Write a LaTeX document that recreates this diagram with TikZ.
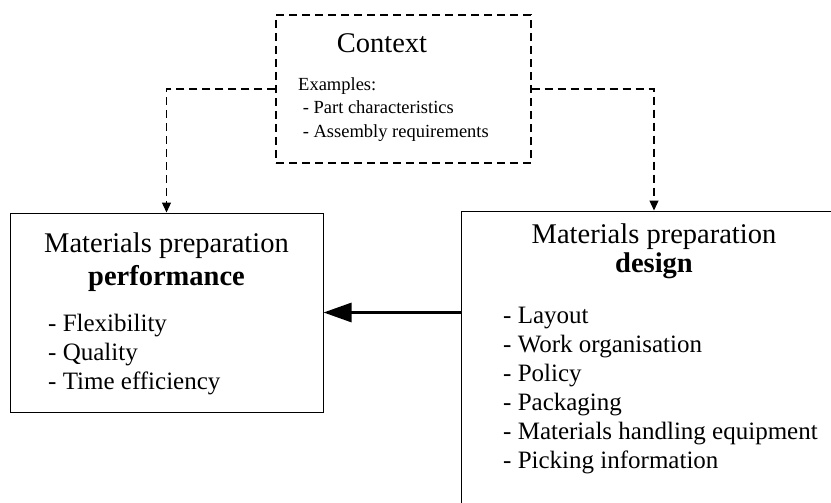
\documentclass[tikz,border=0pt]{standalone}
\usepackage{fontspec}
\setmainfont{Liberation Serif}
\usetikzlibrary{arrows.meta,positioning}

\begin{document}
\begin{tikzpicture}[x=1pt, y=-1pt, >={Triangle[length=10pt,width=9pt]},
  box/.style={draw, line width=1pt, inner sep=0pt},
  dbox/.style={draw, line width=1.2pt, dash pattern=on 8pt off 5pt, inner sep=0pt},
  dline/.style={line width=1.2pt, dash pattern=on 8pt off 5pt},
  title/.style={font=\fontsize{28.5}{33}\selectfont, anchor=base},
  items/.style={font=\fontsize{25}{28.8}\selectfont, align=left, anchor=base west, inner sep=0pt},
  small/.style={font=\fontsize{18.5}{23.5}\selectfont, align=left, anchor=base west, inner sep=0pt}]

  % Frame
  \useasboundingbox (0,0) rectangle (831,503);
  \clip (0,0) rectangle (831,503);

  % Context box (lists are placed by their last baseline)
  \node[dbox, minimum width=255pt, minimum height=148pt] (ctx) at (403.5,89) {};
  \node[title] (ctxT) at (382,53) {Context};
  \node[small] (ctxL) at (298,137) {Examples:\\\ - Part characteristics\\\ - Assembly requirements};

  % Performance box
  \node[box, minimum width=313pt, minimum height=199pt] (perf) at (166.5,312.5) {};
  \node[title] (perfT) at (166.5,252) {Materials preparation};
  \node[title] (perfB) at (166.5,285) {\bfseries performance};
  \node[items] (perfL) at (48,389.5) {- Flexibility\\- Quality\\- Time efficiency};

  % Design box (runs past the frame)
  \node[box, minimum width=386pt, minimum height=320pt] (des) at (654,371) {};
  \node[title] (desT) at (654,243) {Materials preparation};
  \node[title] (desB) at (654,272) {\bfseries design};
  \node[items, font=\fontsize{25}{29}\selectfont] (desL) at (503,468)
    {- Layout\\- Work organisation\\- Policy\\- Packaging\\- Materials handling equipment\\- Picking information};

  % Context links
  \draw[dline,->] (ctx.west) -| (perf.north);
  \draw[dline,->] (ctx.east) -| (des.north);

  % Design drives performance
  \draw[line width=3pt, -{Triangle[length=28pt,width=19pt]}] (des.west |- perf.east) -- (perf.east);

\end{tikzpicture}
\end{document}
